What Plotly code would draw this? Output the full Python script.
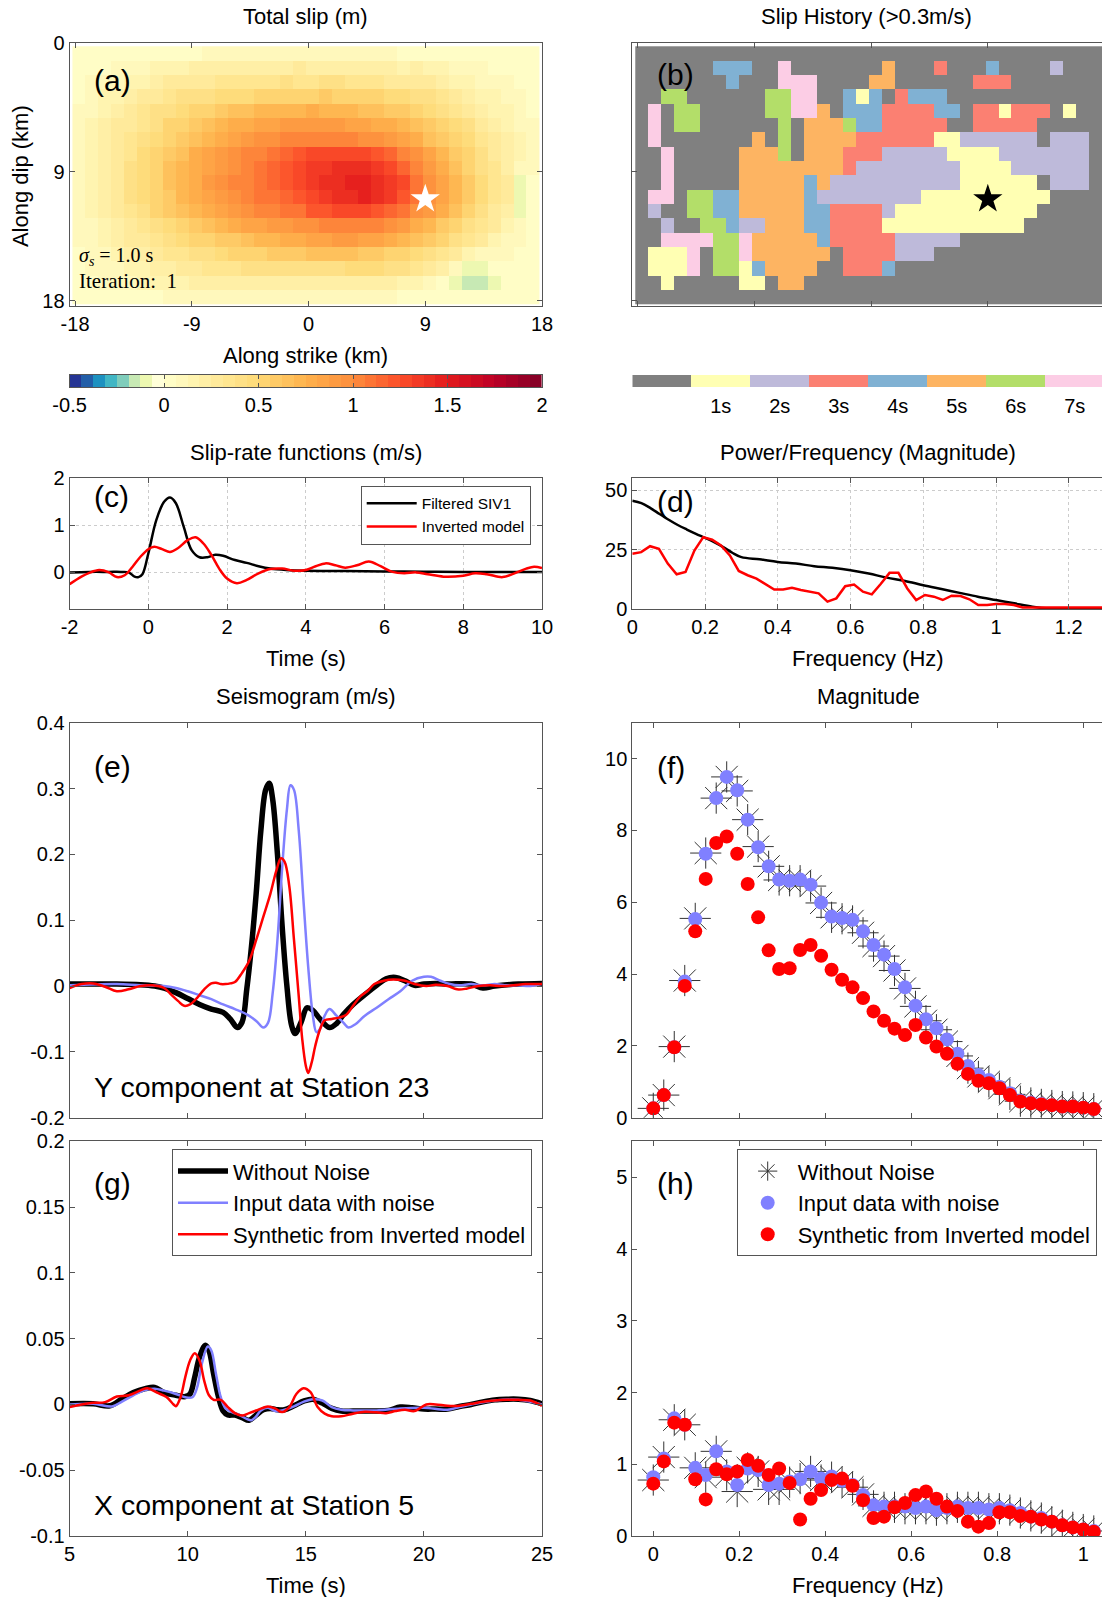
import numpy as np
import plotly.graph_objects as go

W, H = 1102, 1597
FONT = "Liberation Sans, Arial, Helvetica, sans-serif"
SERIF = "Liberation Serif, Times New Roman, serif"
FRAME = "#555555"
BLUE = "#8080ff"
RED = "#ff0000"

# ---------------- (a) total slip on the fault (m), rows = dip, cols = strike
slip_rows = [
    [0.02,0.03,0.03,0.04,0.04,0.05,0.05,0.06,0.06,0.06,0.07,0.07,0.07,0.07,0.08,0.08,0.08,0.08,0.08,0.08,0.08,0.08,0.07,0.07,0.07,0.06,0.06,0.05,0.05,0.05,0.04,0.04,0.03,0.03,0.03,0.02],
    [0.04,0.05,0.06,0.08,0.10,0.12,0.14,0.16,0.18,0.20,0.20,0.22,0.22,0.20,0.22,0.22,0.24,0.25,0.24,0.22,0.20,0.22,0.22,0.24,0.20,0.18,0.20,0.18,0.15,0.12,0.10,0.08,0.06,0.05,0.04,0.03],
    [0.05,0.08,0.10,0.12,0.15,0.18,0.22,0.25,0.28,0.30,0.30,0.32,0.32,0.33,0.35,0.35,0.38,0.36,0.36,0.38,0.40,0.35,0.33,0.32,0.30,0.30,0.28,0.25,0.22,0.18,0.15,0.12,0.10,0.08,0.06,0.04],
    [0.06,0.10,0.13,0.17,0.22,0.26,0.30,0.33,0.38,0.40,0.42,0.44,0.46,0.48,0.50,0.52,0.55,0.55,0.56,0.58,0.55,0.52,0.52,0.50,0.48,0.45,0.42,0.38,0.33,0.28,0.23,0.18,0.14,0.10,0.07,0.05],
    [0.07,0.12,0.17,0.22,0.27,0.32,0.38,0.43,0.48,0.52,0.56,0.60,0.63,0.66,0.70,0.72,0.74,0.74,0.76,0.74,0.72,0.70,0.68,0.66,0.62,0.58,0.52,0.48,0.42,0.36,0.30,0.24,0.18,0.13,0.09,0.06],
    [0.08,0.13,0.19,0.25,0.31,0.37,0.43,0.50,0.56,0.62,0.67,0.72,0.76,0.80,0.84,0.87,0.90,0.88,0.90,0.90,0.88,0.86,0.84,0.80,0.76,0.70,0.64,0.58,0.52,0.45,0.38,0.30,0.23,0.16,0.11,0.07],
    [0.09,0.14,0.20,0.27,0.34,0.41,0.48,0.55,0.62,0.68,0.74,0.80,0.85,0.90,0.95,0.98,1.02,1.05,1.05,1.06,1.05,1.03,0.98,0.94,0.90,0.82,0.75,0.68,0.60,0.52,0.44,0.36,0.28,0.20,0.13,0.08],
    [0.10,0.15,0.21,0.28,0.36,0.44,0.52,0.60,0.68,0.75,0.82,0.88,0.94,1.00,1.05,1.10,1.16,1.20,1.25,1.28,1.30,1.30,1.28,1.22,1.15,1.05,0.94,0.84,0.72,0.62,0.50,0.40,0.31,0.22,0.14,0.08],
    [0.10,0.16,0.22,0.30,0.38,0.46,0.54,0.63,0.71,0.79,0.86,0.92,0.98,1.04,1.10,1.16,1.22,1.28,1.32,1.36,1.38,1.40,1.38,1.34,1.25,1.15,1.02,0.90,0.78,0.66,0.54,0.43,0.33,0.24,0.12,0.08],
    [0.10,0.16,0.23,0.31,0.39,0.47,0.56,0.65,0.73,0.81,0.88,0.94,1.00,1.06,1.12,1.18,1.24,1.30,1.35,1.38,1.42,1.44,1.48,1.42,1.36,1.25,1.10,0.95,0.82,0.70,0.58,0.46,0.36,0.26,-0.09,0.06],
    [0.10,0.16,0.22,0.30,0.38,0.46,0.54,0.62,0.70,0.78,0.85,0.91,0.97,1.02,1.08,1.12,1.18,1.24,1.30,1.34,1.38,1.42,1.46,1.40,1.34,1.22,1.10,0.98,0.82,0.70,0.57,0.45,0.35,0.25,-0.10,0.05],
    [0.09,0.14,0.20,0.27,0.34,0.42,0.50,0.57,0.64,0.71,0.78,0.84,0.90,0.95,1.00,1.04,1.08,1.12,1.20,1.24,1.26,1.28,1.27,1.22,1.16,1.08,0.98,0.88,0.76,0.64,0.52,0.41,0.31,0.22,-0.10,0.05],
    [0.08,0.12,0.18,0.24,0.30,0.36,0.42,0.48,0.55,0.60,0.66,0.72,0.77,0.82,0.86,0.90,0.92,0.94,0.96,1.02,1.06,1.06,1.04,1.00,0.95,0.88,0.80,0.72,0.62,0.52,0.42,0.33,0.25,0.18,0.10,0.05],
    [0.07,0.10,0.15,0.20,0.25,0.30,0.35,0.40,0.45,0.50,0.54,0.58,0.62,0.66,0.70,0.72,0.75,0.78,0.82,0.86,0.90,0.90,0.86,0.82,0.76,0.70,0.64,0.57,0.50,0.42,0.34,0.26,0.18,0.12,0.08,0.05],
    [0.06,0.08,0.12,0.16,0.20,0.24,0.28,0.32,0.36,0.40,0.43,0.46,0.50,0.53,0.56,0.58,0.60,0.62,0.64,0.65,0.66,0.66,0.62,0.60,0.56,0.52,0.46,0.40,0.33,0.25,0.17,0.12,0.10,0.08,0.06,0.04],
    [0.05,0.07,0.09,0.12,0.15,0.18,0.21,0.24,0.27,0.30,0.32,0.34,0.36,0.38,0.39,0.40,0.41,0.42,0.42,0.42,0.43,0.46,0.46,0.45,0.42,0.40,0.36,0.30,0.22,0.12,-0.10,-0.10,0.02,0.05,0.05,0.04],
    [0.04,0.05,0.07,0.09,0.11,0.13,0.15,0.17,0.18,0.19,0.20,0.21,0.22,0.22,0.22,0.22,0.22,0.21,0.21,0.20,0.22,0.24,0.24,0.22,0.20,0.18,0.14,0.10,0.06,-0.10,-0.15,-0.15,-0.10,0.03,0.03,0.03],
    [0.03,0.04,0.04,0.05,0.05,0.06,0.06,0.07,0.07,0.07,0.08,0.08,0.08,0.08,0.08,0.08,0.08,0.08,0.08,0.08,0.08,0.08,0.08,0.07,0.07,0.06,0.06,0.05,0.05,0.04,0.04,0.03,0.03,0.03,0.02,0.02],
]
strike_km = np.arange(36) - 17.7      # cell centres along strike
dip_km = np.arange(18) + 0.75          # cell centres down dip
hypo_strike, hypo_dip = 9.0, 10.9

# ---------------- (b) first time (s) each cell exceeds 0.3 m/s, 0 = never
history_rows = [
    "000000000000000000000000000000000000",
    "000000444007000000050003000400002000",
    "000000040007770000550000003330000000",
    "006600000066770041403444000000000000",
    "070660000066775044433334403313330100",
    "070660000006055564433333003333300000",
    "070000000506055553333331122222202220",
    "007000005556055533322222111122222220",
    "007000005555555532222222211112222220",
    "007000005555545222222222211111102220",
    "077066445555542222222211111111110000",
    "020066445555544333321111111111100000",
    "002006642255544333311111111111000000",
    "007777667555554333332222200000000000",
    "011170667555555033332220000000000000",
    "011170661455550033340000000000000000",
    "001000001105500000000000000000000000",
    "000000000000000000000000000000000000",
]
history = [[int(ch) for ch in row] for row in history_rows]
history_labels = ["1s", "2s", "3s", "4s", "5s", "6s", "7s"]
history_colors = ["#808080", "#ffffb3", "#bebada", "#fb8072", "#80b1d3", "#fdb462", "#b3de69", "#fccde5"]

# ---------------- (c) slip-rate functions (m/s)
t_siv = [-2, -1.5, -1, -0.7, -0.5, -0.35, -0.25, -0.15, 0, 0.2, 0.4, 0.55, 0.7, 0.9, 1.1, 1.3, 1.5, 1.7, 1.9, 2.2,
         2.5, 2.8, 3.1, 3.5, 4, 5, 6, 7, 8, 10]
sr_siv = [0.0, 0.01, 0.01, 0.01, 0.0, -0.09, -0.1, -0.04, 0.4, 1.1, 1.49, 1.58, 1.46, 0.96, 0.47, 0.32, 0.32, 0.37, 0.35, 0.26,
          0.2, 0.13, 0.08, 0.05, 0.035, 0.03, 0.02, 0.015, 0.01, 0.01]
t_inv = [-2, -1.7, -1.5, -1.25, -1.0, -0.8, -0.6, -0.4, -0.2, 0, 0.15, 0.35, 0.55, 0.75, 1.0, 1.2, 1.4, 1.6, 1.8, 2.0,
         2.25, 2.5, 2.8, 3.1, 3.4, 3.7, 4.0, 4.25, 4.5, 4.75, 5.0, 5.3, 5.6, 5.9, 6.2, 6.5, 6.8, 7.1, 7.5, 8.0,
         8.3, 8.6, 9.0, 9.3, 9.6, 9.8, 10]
sr_inv = [-0.25, -0.09, -0.01, 0.05, 0.0, -0.1, -0.06, 0.12, 0.33, 0.49, 0.54, 0.49, 0.43, 0.51, 0.68, 0.74, 0.61, 0.37, 0.08, -0.13,
          -0.23, -0.16, -0.02, 0.07, 0.08, 0.035, 0.05, 0.13, 0.19, 0.15, 0.1, 0.15, 0.23, 0.13, 0.01, -0.02, 0.0, -0.04, -0.09, -0.07,
          -0.02, -0.04, -0.1, -0.02, 0.08, 0.12, 0.09]

# ---------------- (d) spectra of the slip-rate functions
f_siv = [0, 0.025, 0.05, 0.075, 0.1, 0.125, 0.15, 0.175, 0.2, 0.225, 0.25, 0.275, 0.3, 0.35, 0.4, 0.45, 0.5, 0.55, 0.6,
         0.65, 0.7, 0.75, 0.8, 0.85, 0.9, 0.95, 1.0, 1.05, 1.1, 1.15, 1.2, 1.3]
pw_siv = [45.6, 44.6, 42.5, 40, 37.6, 35.4, 33.5, 31.7, 30, 28.2, 26.1, 23.75, 21.9, 21, 19.9, 19.2, 18.1, 17.4, 16.4,
          15, 13.3, 11.9, 10.1, 8.5, 6.9, 5.3, 3.9, 2.5, 1.1, 0.3, 0.1, 0.1]
pw_inv = [23.3, 24, 26.5, 25.4, 19.2, 14.7, 15.7, 24.7, 30.3, 29.2, 26.8, 22.6, 16.1, 14.3, 12.9, 10.6, 8.3, 8.3, 9.0, 8.1,
          7.4, 6.7, 3.2, 4.6, 9.7, 10.4, 7.4, 6.25, 10.6, 15.3, 15.3, 8.75, 3.9, 6.0, 5.3, 3.9, 5.7, 5.6, 4.2, 1.8,
          1.8, 2.2, 2.2, 1.8, 0.8, 0.8, 1.1, 1.1, 0.9, 0.8, 0.8, 0.8, 0.8, 0.8]
df = 1 / 41
f_inv = [k * df for k in range(len(pw_inv))]

# ---------------- (e) Y component, station 23 (m/s)
t_y_clean = [5, 6, 7, 8, 8.6, 9, 9.5, 10, 10.5, 11, 11.5, 11.8, 12.1, 12.3, 12.5, 12.7, 12.9, 13.1, 13.3, 13.45,
             13.6, 13.8, 14.0, 14.2, 14.4, 14.55, 14.8, 15.05, 15.3, 15.6, 16.0, 16.3, 16.6, 17, 17.5, 18, 18.4, 18.8, 19.2, 19.6,
             20, 20.5, 21, 22, 22.5, 23, 24, 25]
y_clean = [0.003, 0.003, 0.003, 0.002, 0.0, -0.003, -0.01, -0.019, -0.028, -0.035, -0.04, -0.05, -0.063, -0.055, -0.005, 0.06, 0.141, 0.237, 0.298, 0.308,
           0.283, 0.2, 0.09, 0.0, -0.06, -0.072, -0.055, -0.033, -0.037, -0.05, -0.063, -0.057, -0.043, -0.028, -0.013, 0.001, 0.011, 0.013, 0.008, 0.001,
           0.003, 0.004, 0.003, 0.003, -0.003, 0.0, 0.003, 0.004]
t_y_noisy = [5, 7, 8, 9, 9.5, 10, 10.5, 11, 11.5, 12, 12.5, 12.9, 13.2, 13.4, 13.6, 13.8, 14.0, 14.2, 14.35, 14.5,
             14.7, 14.9, 15.1, 15.3, 15.45, 15.6, 15.8, 16.0, 16.3, 16.6, 16.8, 17.1, 17.5, 18, 18.5, 19, 19.5, 20, 20.3, 20.7,
             21.1, 21.5, 22, 22.5, 23, 23.5, 24, 24.5, 25]
y_noisy = [0.001, 0.003, 0.001, 0.0, -0.003, -0.008, -0.014, -0.02, -0.028, -0.035, -0.043, -0.053, -0.063, -0.056, -0.01, 0.07, 0.18, 0.268, 0.305, 0.298,
           0.237, 0.131, 0.03, -0.045, -0.07, -0.065, -0.045, -0.035, -0.045, -0.056, -0.063, -0.058, -0.045, -0.033, -0.02, -0.008, 0.008, 0.014, 0.014, 0.008,
           0.003, 0.001, 0.003, 0.001, 0.003, 0.001, 0.001, 0.0, 0.003]
t_y_inv = [5, 5.5, 6, 6.5, 7, 7.5, 8, 8.5, 9, 9.3, 9.6, 9.85, 10.1, 10.4, 10.7, 11.0, 11.2, 11.4, 11.6, 11.8,
           12.0, 12.3, 12.6, 12.9, 13.2, 13.5, 13.75, 13.95, 14.1, 14.3, 14.5, 14.7, 14.85, 15.0, 15.1, 15.25, 15.4, 15.6, 15.8, 16.1,
           16.4, 16.7, 17.0, 17.3, 17.6, 17.9, 18.3, 18.7, 19.2, 19.6, 20.1, 20.5, 21, 21.4, 21.8, 22.3, 22.8, 23.3, 23.8, 24.3, 25]
y_inv = [-0.003, 0.003, 0.004, -0.001, -0.008, -0.005, 0.0, 0.001, -0.003, -0.013, -0.023, -0.03, -0.028, -0.018, -0.005, 0.004, 0.005, 0.003, 0.003, 0.004,
         0.006, 0.02, 0.038, 0.07, 0.105, 0.14, 0.175, 0.194, 0.189, 0.152, 0.07, -0.015, -0.081, -0.121, -0.132, -0.116, -0.091, -0.066, -0.052, -0.05,
         -0.048, -0.044, -0.03, -0.016, -0.008, 0.003, 0.008, 0.01, 0.008, 0.003, 0.0, 0.002, 0.0, -0.005, -0.004, 0.0, 0.001, 0.0, 0.001, 0.003, 0.003]

# ---------------- (g) X component, station 5 (m/s)
t_x_clean = [5, 6, 6.7, 7.2, 7.7, 8.2, 8.6, 9.0, 9.5, 9.9, 10.1, 10.3, 10.5, 10.75, 10.9, 11.1, 11.3, 11.5, 11.7, 12.0,
             12.3, 12.6, 12.9, 13.2, 13.5, 13.8, 14.1, 14.5, 14.9, 15.3, 15.7, 16.1, 16.5, 17.0, 17.5, 18, 18.5, 19, 19.5, 20,
             20.5, 21, 21.5, 22, 22.5, 23, 23.5, 24, 24.5, 25]
x_clean = [0.0005, 0.0005, -0.001, 0.004, 0.009, 0.012, 0.013, 0.009, 0.007, 0.006, 0.008, 0.021, 0.036, 0.045, 0.041, 0.023, 0.006, -0.005, -0.008, -0.008,
           -0.01, -0.012, -0.008, -0.004, -0.003, -0.004, -0.004, -0.001, 0.0025, 0.004, 0.001, -0.003, -0.005, -0.005, -0.005, -0.005, -0.0045, -0.002, -0.0025, -0.0035,
           -0.0035, -0.0035, -0.0015, 0.0, 0.002, 0.0035, 0.004, 0.004, 0.003, 0.0005]
t_x_noisy = [5, 6, 6.8, 7.2, 7.7, 8.2, 8.6, 9.0, 9.5, 9.9, 10.2, 10.4, 10.6, 10.85, 11.0, 11.2, 11.4, 11.6, 11.9, 12.2,
             12.5, 12.7, 12.9, 13.1, 13.4, 13.7, 14.0, 14.5, 14.9, 15.3, 15.7, 16.1, 16.5, 17, 18, 19, 20, 21, 21.5, 22,
             23, 24, 25]
x_noisy = [0.0, 0.0005, -0.0015, 0.002, 0.007, 0.011, 0.012, 0.0105, 0.008, 0.0055, 0.0055, 0.013, 0.031, 0.044, 0.041, 0.023, 0.0055, -0.003, -0.006, -0.008,
           -0.011, -0.012, -0.009, -0.0045, -0.0025, -0.005, -0.0045, -0.0015, 0.002, 0.004, 0.003, -0.002, -0.004, -0.0045, -0.0045, -0.003, -0.0025, -0.004, -0.002, 0.0,
           0.003, 0.0035, 0.0]
t_x_inv = [5, 5.5, 6, 6.5, 7, 7.5, 8.0, 8.3, 8.7, 9.1, 9.4, 9.5, 9.7, 9.9, 10.1, 10.3, 10.5, 10.7, 10.9, 11.1,
           11.4, 11.7, 12.0, 12.3, 12.6, 12.9, 13.2, 13.4, 13.7, 14.0, 14.3, 14.6, 14.9, 15.2, 15.5, 15.8, 16.1, 16.5, 17, 17.5,
           18, 18.4, 18.8, 19.2, 19.6, 20.1, 20.5, 21, 21.5, 22, 22.5, 23, 23.5, 24, 24.5, 25]
x_inv = [-0.002, 0.0, 0.0013, 0.0018, 0.006, 0.007, 0.0107, 0.0124, 0.009, 0.0056, 0.0, -0.0013, 0.0056, 0.021, 0.0335, 0.039, 0.0335, 0.018, 0.007, 0.0035,
         0.0035, -0.002, -0.0066, -0.0084, -0.0066, -0.0046, -0.0025, -0.0015, -0.003, -0.0058, -0.002, 0.008, 0.0124, 0.0094, -0.002, -0.007, -0.009, -0.009, -0.007, -0.0056,
         -0.006, -0.0066, -0.005, -0.004, -0.005, 0.0, 0.0, -0.001, -0.001, 0.0005, 0.002, 0.003, 0.0035, 0.0035, 0.003, -0.001]

# ---------------- (f), (h) Fourier magnitudes
freq = [k * df for k in range(43)]
f_clean = [0.26, 0.63, 1.98, 3.82, 5.55, 7.37, 8.9, 9.49, 9.1, 8.3, 7.55, 7.0, 6.62, 6.6, 6.6, 6.45, 5.98, 5.58, 5.54, 5.48,
           5.15, 4.78, 4.5, 4.1, 3.6, 3.1, 2.7, 2.45, 2.12, 1.72, 1.38, 1.15, 1.0, 0.82, 0.65, 0.46, 0.41, 0.37, 0.34, 0.31,
           0.3, 0.28, 0.25]
f_noisy = [0.26, 0.63, 1.96, 3.79, 5.53, 7.35, 8.9, 9.49, 9.12, 8.3, 7.53, 7.0, 6.63, 6.6, 6.63, 6.49, 5.99, 5.6, 5.56, 5.51,
           5.19, 4.81, 4.54, 4.14, 3.63, 3.12, 2.74, 2.49, 2.18, 1.78, 1.44, 1.19, 1.05, 0.86, 0.68, 0.47, 0.42, 0.38, 0.35, 0.31,
           0.31, 0.28, 0.24]
f_inv_mag = [0.26, 0.63, 1.96, 3.67, 5.19, 6.65, 7.65, 7.83, 7.35, 6.51, 5.58, 4.66, 4.14, 4.16, 4.67, 4.81, 4.51, 4.12, 3.84, 3.63,
             3.33, 2.96, 2.7, 2.48, 2.3, 2.58, 2.23, 1.98, 1.78, 1.5, 1.22, 1.03, 0.96, 0.82, 0.63, 0.45, 0.4, 0.37, 0.35, 0.31,
             0.31, 0.28, 0.24]
h_clean = [0.78, 1.1, 1.62, 1.55, 0.95, 0.82, 1.18, 0.85, 0.62, 0.95, 0.9, 0.65, 0.65, 0.75, 0.8, 0.9, 0.78, 0.82, 0.75, 0.68,
           0.58, 0.42, 0.4, 0.4, 0.38, 0.38, 0.38, 0.36, 0.38, 0.4, 0.4, 0.4, 0.38, 0.38, 0.36, 0.32, 0.28, 0.25, 0.2, 0.15,
           0.12, 0.09, 0.07]
h_noisy = [0.82, 1.08, 1.64, 1.55, 0.95, 0.85, 1.18, 0.9, 0.71, 0.94, 0.92, 0.71, 0.73, 0.76, 0.79, 0.9, 0.8, 0.83, 0.77, 0.71,
           0.57, 0.43, 0.41, 0.41, 0.41, 0.39, 0.41, 0.36, 0.39, 0.41, 0.39, 0.39, 0.37, 0.39, 0.36, 0.32, 0.27, 0.25, 0.2, 0.15,
           0.12, 0.09, 0.07]
h_inv_mag = [0.73, 1.04, 1.58, 1.55, 0.79, 0.51, 0.93, 0.86, 0.9, 1.06, 0.98, 0.85, 0.94, 0.74, 0.23, 0.52, 0.64, 0.78, 0.8, 0.7,
             0.5, 0.25, 0.27, 0.4, 0.46, 0.57, 0.62, 0.52, 0.41, 0.35, 0.2, 0.13, 0.18, 0.33, 0.33, 0.28, 0.27, 0.23, 0.2, 0.15,
             0.12, 0.09, 0.06]


# ---------------- colour maps
def hex_to_rgb(h):
    h = h.lstrip("#")
    return [int(h[i:i + 2], 16) for i in (0, 2, 4)]


def mix(c1, c2, t):
    a, b = hex_to_rgb(c1), hex_to_rgb(c2)
    return "#%02x%02x%02x" % tuple(int(round(a[i] + (b[i] - a[i]) * t)) for i in range(3))


YLGNBU_R = ["#253494", "#225ea8", "#1d91c0", "#41b6c4", "#7fcdbb", "#c7e9b4", "#edf8b1", "#ffffd9"]
YLORRD = ["#ffffcc", "#ffeda0", "#fed976", "#feb24c", "#fd8d3c", "#fc4e2a", "#e31a1c", "#bd0026", "#800026"]


def ylorrd(t):
    pos = t * (len(YLORRD) - 1)
    i = min(int(pos), len(YLORRD) - 2)
    return mix(YLORRD[i], YLORRD[i + 1], pos - i)


slip_bands = YLGNBU_R + [ylorrd((i + 0.5) / 32) for i in range(32)]
n_bands = len(slip_bands)
slip_cs = []
for k, c in enumerate(slip_bands):
    slip_cs += [[k / n_bands, c], [(k + 1) / n_bands, c]]
band_centres = [-0.5 + 2.5 * (k + 0.5) / n_bands for k in range(n_bands)]

hist_cs = []
for k, c in enumerate(history_colors):
    hist_cs += [[k / 8, c], [(k + 1) / 8, c]]

# ---------------- figure
fig = go.Figure()

fig.add_trace(go.Heatmap(x=strike_km, y=dip_km, z=slip_rows, colorscale=slip_cs, zmin=-0.5, zmax=2,
                         showscale=False, hoverinfo="skip", xaxis="x", yaxis="y"))
fig.add_trace(go.Scatter(x=[hypo_strike], y=[hypo_dip], mode="markers", showlegend=False,
                         marker=dict(symbol="star", size=22, color="white", line=dict(width=0)), xaxis="x", yaxis="y"))

fig.add_trace(go.Heatmap(x=strike_km, y=dip_km, z=history, colorscale=hist_cs, zmin=-0.5, zmax=7.5,
                         showscale=False, hoverinfo="skip", xaxis="x2", yaxis="y2"))
fig.add_trace(go.Scatter(x=[hypo_strike], y=[hypo_dip], mode="markers", showlegend=False,
                         marker=dict(symbol="star", size=22, color="black", line=dict(width=0)), xaxis="x2", yaxis="y2"))

# colour bars drawn as strips
fig.add_trace(go.Heatmap(x=band_centres, y=[0], z=[band_centres], colorscale=slip_cs, zmin=-0.5, zmax=2,
                         showscale=False, hoverinfo="skip", xaxis="x3", yaxis="y3"))
fig.add_trace(go.Heatmap(x=list(range(8)), y=[0], z=[list(range(8))], colorscale=hist_cs, zmin=-0.5, zmax=7.5,
                         showscale=False, hoverinfo="skip", xaxis="x4", yaxis="y4"))

# (c)
fig.add_trace(go.Scatter(x=t_siv, y=sr_siv, mode="lines", name="Filtered SIV1", line=dict(color="black", width=2.5, shape="spline"),
                         xaxis="x5", yaxis="y5", legend="legend"))
fig.add_trace(go.Scatter(x=t_inv, y=sr_inv, mode="lines", name="Inverted model", line=dict(color=RED, width=2.5, shape="spline"),
                         xaxis="x5", yaxis="y5", legend="legend"))
# (d)
fig.add_trace(go.Scatter(x=f_siv, y=pw_siv, mode="lines", showlegend=False, line=dict(color="black", width=2.5, shape="spline"),
                         xaxis="x6", yaxis="y6"))
fig.add_trace(go.Scatter(x=f_inv, y=pw_inv, mode="lines", showlegend=False, line=dict(color=RED, width=2.5),
                         xaxis="x6", yaxis="y6"))
# (e)
fig.add_trace(go.Scatter(x=t_y_clean, y=y_clean, mode="lines", showlegend=False, line=dict(color="black", width=5.5, shape="spline"),
                         xaxis="x7", yaxis="y7"))
fig.add_trace(go.Scatter(x=t_y_noisy, y=y_noisy, mode="lines", showlegend=False, line=dict(color=BLUE, width=2.5, shape="spline"),
                         xaxis="x7", yaxis="y7"))
fig.add_trace(go.Scatter(x=t_y_inv, y=y_inv, mode="lines", showlegend=False, line=dict(color=RED, width=2.5, shape="spline"),
                         xaxis="x7", yaxis="y7"))
# (f)
star_marker = dict(symbol="asterisk-open", size=26, color="#333333", line=dict(color="#333333", width=1))
fig.add_trace(go.Scatter(x=freq, y=f_clean, mode="markers", showlegend=False, marker=star_marker, xaxis="x8", yaxis="y8"))
fig.add_trace(go.Scatter(x=freq, y=f_noisy, mode="markers", showlegend=False, marker=dict(size=14, color=BLUE),
                         xaxis="x8", yaxis="y8"))
fig.add_trace(go.Scatter(x=freq, y=f_inv_mag, mode="markers", showlegend=False, marker=dict(size=14, color=RED),
                         xaxis="x8", yaxis="y8"))
# (g)
fig.add_trace(go.Scatter(x=t_x_clean, y=x_clean, mode="lines", name="Without Noise", line=dict(color="black", width=5.5, shape="spline"),
                         xaxis="x9", yaxis="y9", legend="legend2"))
fig.add_trace(go.Scatter(x=t_x_noisy, y=x_noisy, mode="lines", name="Input data with noise", line=dict(color=BLUE, width=2.5, shape="spline"),
                         xaxis="x9", yaxis="y9", legend="legend2"))
fig.add_trace(go.Scatter(x=t_x_inv, y=x_inv, mode="lines", name="Synthetic from Inverted model", line=dict(color=RED, width=2.5, shape="spline"),
                         xaxis="x9", yaxis="y9", legend="legend2"))
# (h)
fig.add_trace(go.Scatter(x=freq, y=h_clean, mode="markers", name="Without Noise", marker=star_marker,
                         xaxis="x10", yaxis="y10", legend="legend3"))
fig.add_trace(go.Scatter(x=freq, y=h_noisy, mode="markers", name="Input data with noise", marker=dict(size=14, color=BLUE),
                         xaxis="x10", yaxis="y10", legend="legend3"))
fig.add_trace(go.Scatter(x=freq, y=h_inv_mag, mode="markers", name="Synthetic from Inverted model", marker=dict(size=14, color=RED),
                         xaxis="x10", yaxis="y10", legend="legend3"))


# ---------------- axes
def xd(a, b):
    return [a / W, b / W]


def yd(top, bottom):
    return [1 - bottom / H, 1 - top / H]


def ax(**kw):
    d = dict(showline=True, linecolor=FRAME, linewidth=1, mirror="ticks", ticks="inside", ticklen=5,
             tickcolor=FRAME, tickwidth=1, showgrid=False, zeroline=False, fixedrange=True, automargin=False,
             tickfont=dict(size=20, color="black", family=FONT))
    d.update(kw)
    return d


def labels(vals):
    return [("%g" % v) for v in vals]


grid = dict(showgrid=True, gridcolor="#cccccc", gridwidth=1, griddash="dot")
LEFT = xd(69.6, 542)
RIGHT = [632.3 / W, 1.0]

xa_ticks = [-18, -9, 0, 9, 18]
ya_ticks = [0, 9, 18]
cb_ticks = [-0.5, 0, 0.5, 1, 1.5, 2]
c_xt = [-2, 0, 2, 4, 6, 8, 10]
c_yt = [0, 1, 2]
d_xt = [0, 0.2, 0.4, 0.6, 0.8, 1, 1.2]
d_yt = [0, 25, 50]
e_yt = [-0.2, -0.1, 0, 0.1, 0.2, 0.3, 0.4]
g_yt = [-0.1, -0.05, 0, 0.05, 0.1, 0.15, 0.2]
t_xt = [5, 10, 15, 20, 25]
f_xt = [0, 0.2, 0.4, 0.6, 0.8, 1]
f_yt = [0, 2, 4, 6, 8, 10]
h_yt = [0, 1, 2, 3, 4, 5]

layout_axes = dict(
    xaxis=ax(domain=LEFT, anchor="y", range=[-18.42, 18], tickvals=xa_ticks, ticktext=labels(xa_ticks)),
    yaxis=ax(domain=yd(42.7, 306), anchor="x", range=[18.35, 0], tickvals=ya_ticks, ticktext=labels(ya_ticks)),
    xaxis2=ax(domain=RIGHT, anchor="y2", range=[-18.43, 17.81], tickvals=[-18, -9, 0, 9], showticklabels=False),
    yaxis2=ax(domain=yd(42.7, 306), anchor="x2", range=[18.35, 0], tickvals=ya_ticks, showticklabels=False, mirror=False),
    xaxis3=ax(domain=LEFT, anchor="y3", range=[-0.5, 2], tickvals=cb_ticks, ticktext=labels(cb_ticks), ticklen=4),
    yaxis3=ax(domain=yd(375, 387), anchor="x3", range=[-0.5, 0.5], showticklabels=False, ticks="", mirror=True),
    xaxis4=ax(domain=RIGHT, anchor="y4", range=[-0.5, -0.5 + (W - 632.3) / 59], tickvals=list(range(1, 8)),
              ticktext=history_labels, ticks="", showline=False, ticklabelstandoff=5),
    yaxis4=ax(domain=yd(375, 387), anchor="x4", range=[-0.5, 0.5], showticklabels=False, ticks="", showline=False),
    xaxis5=ax(domain=LEFT, anchor="y5", range=[-2, 10], tickvals=c_xt, ticktext=labels(c_xt), **grid),
    yaxis5=ax(domain=yd(477.7, 609.3), anchor="x5", range=[-0.78, 2], tickvals=c_yt, ticktext=labels(c_yt), **grid),
    xaxis6=ax(domain=RIGHT, anchor="y6", range=[0, (W - 632.3) / 363.7], tickvals=d_xt, ticktext=labels(d_xt), **grid),
    yaxis6=ax(domain=yd(478.3, 609.3), anchor="x6", range=[0, 55], tickvals=d_yt, ticktext=labels(d_yt), mirror=False, **grid),
    xaxis7=ax(domain=LEFT, anchor="y7", range=[5, 25], tickvals=t_xt, showticklabels=False),
    yaxis7=ax(domain=yd(722.7, 1117.7), anchor="x7", range=[-0.2, 0.4], tickvals=e_yt, ticktext=labels(e_yt)),
    xaxis8=ax(domain=RIGHT, anchor="y8", range=[-0.0488, -0.0488 + (W - 632.3) / 430], tickvals=f_xt, showticklabels=False),
    yaxis8=ax(domain=yd(722.7, 1117.7), anchor="x8", range=[0, 11], tickvals=f_yt, ticktext=labels(f_yt), mirror=False),
    xaxis9=ax(domain=LEFT, anchor="y9", range=[5, 25], tickvals=t_xt, ticktext=labels(t_xt)),
    yaxis9=ax(domain=yd(1141.4, 1536), anchor="x9", range=[-0.1, 0.2], tickvals=g_yt, ticktext=labels(g_yt)),
    xaxis10=ax(domain=RIGHT, anchor="y10", range=[-0.0488, -0.0488 + (W - 632.3) / 430], tickvals=f_xt, ticktext=labels(f_xt)),
    yaxis10=ax(domain=yd(1141.4, 1536), anchor="x10", range=[0, 5.5], tickvals=h_yt, ticktext=labels(h_yt), mirror=False),
)

# ---------------- text
annotations = []


def text(s, x, y, size=22, xanchor="center", family=FONT, angle=0):
    annotations.append(dict(text=s, x=x / W, y=1 - y / H, xref="paper", yref="paper", showarrow=False,
                            xanchor=xanchor, yanchor="middle", textangle=angle,
                            font=dict(size=size, color="black", family=family)))


text("Total slip (m)", 305.8, 17)
text("Slip History (>0.3m/s)", 866.7, 17)
text("Along strike (km)", 305.8, 355.5)
text("Along dip (km)", 20.4, 175.7, angle=-90)
text("Slip-rate functions (m/s)", 305.8, 453)
text("Power/Frequency (Magnitude)", 868.3, 453)
text("Time (s)", 305.8, 658.3)
text("Frequency (Hz)", 868.3, 658.3)
text("Seismogram (m/s)", 305.8, 696.7)
text("Magnitude", 868.3, 696.7)
text("Time (s)", 305.8, 1585)
text("Frequency (Hz)", 868.3, 1585)

for s, x, y in [("(a)", 92, 80), ("(b)", 655, 74), ("(c)", 92, 497), ("(d)", 655, 501.7),
                ("(e)", 92, 766), ("(f)", 655, 767.5), ("(g)", 92, 1183), ("(h)", 655, 1183)]:
    text(s, x, y, size=30, xanchor="left")

text("Y component at Station 23", 92, 1086.7, size=28.5, xanchor="left")
text("X component at Station 5", 92, 1505, size=28.5, xanchor="left")
text("<i>σ<sub>s</sub></i> = 1.0 s", 77, 256, size=20, xanchor="left", family=SERIF)
text("Iteration:  1", 77, 281, size=21, xanchor="left", family=SERIF)

legend_common = dict(xanchor="left", yanchor="top", bgcolor="white", bordercolor=FRAME, borderwidth=1,
                     tracegroupgap=0, itemwidth=50)

fig.update_layout(
    width=W, height=H, margin=dict(l=0, r=0, t=0, b=0, autoexpand=False),
    paper_bgcolor="white", plot_bgcolor="white",
    font=dict(family=FONT, color="black", size=20),
    annotations=annotations,
    legend=dict(x=360.7 / W, y=1 - 485.7 / H, font=dict(size=15.5, family=FONT, color="black"), **legend_common),
    legend2=dict(x=172 / W, y=1 - 1149.3 / H, font=dict(size=22, family=FONT, color="black"), **legend_common),
    legend3=dict(x=736.7 / W, y=1 - 1149.3 / H, font=dict(size=22, family=FONT, color="black"), **legend_common),
    **layout_axes,
)

fig.write_html("out.html")
